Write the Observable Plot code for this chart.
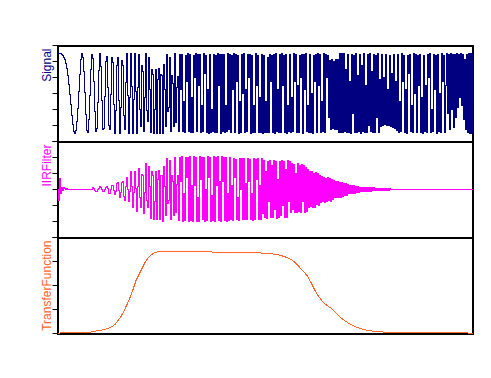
<!DOCTYPE html>
<html><head><meta charset="utf-8">
<script src="https://cdn.jsdelivr.net/npm/d3@7"></script>
<script src="https://cdn.jsdelivr.net/npm/@observablehq/plot@0.6"></script>
<style>
html,body{margin:0;padding:0;background:#fff;}
#chart{position:relative;width:491px;height:378px;background:#fff;overflow:hidden;}
#chart svg{position:absolute;left:0;}
</style></head><body><div id="chart"></div>
<script>
// Signal (chirp), one reading per sample column of the plot
const signal = [
1,1,1,0.99,0.98,0.96,0.91,0.85,0.75,0.62,0.44,0.23,-0.02,-0.28,-0.54,-0.78,-0.94,-1,
-0.93,-0.71,-0.37,0.05,0.48,0.84,1,
0.91,0.56,0.03,-0.53,-0.92,-0.98,-0.65,-0.04,0.6,0.98,
0.87,0.3,-0.45,-0.95,-0.87,-0.23,0.58,1,0.67,-0.18,
-0.9,-0.87,-0.08,0.8,0.93,0.15,-0.79,-0.91,-0.03,0.89,
0.78,-0.28,-1,-0.43,0.7,0.89,-0.17,-1,-0.35,0.83,
0.71,-0.55,-0.91,0.27,0.99,-0.04,-1,-0.11,0.99,0.17,
-0.99,-0.16,0.99,0.05,-1,0.14,0.97,-0.39,-0.83,0.69,
0.56,-0.94,-0.11,0.99,-0.43,-0.71,0.89,0.11,-0.97,0.61,
0.47,-1,-0.39,0.61,-0.99,0.34,0.62,-0.99,0.47,0.46,
-0.99,0.72,0.1,-0.83,0.97,-0.45,-0.34,0.91,-0.94,0.45,0.25,-0.83,1,-0.73,0.16,0.43,
-0.95,0.97,0.1,0.98,-0.96,-0.2,-0.97,0.95,0.3,0.99,-0.96,
0.98,-0.97,-0.1,-0.98,0.96,0.4,0.99,-0.96,0.97,0.2,
0.97,-0.98,-0.3,-0.96,0.99,0.5,0.95,-0.97,0.1,-0.99,
0.98,-0.97,-0.4,-0.95,0.97,
-0.97,0.96,-0.98,0.99,0.2,0.98,-0.99,0.97,-0.96,0.97,
-0.98,-0.3,-0.95,0.99,-0.9,0.97,-0.98,0.94,0.1,1,
-0.97,0.98,0.3,0.96,-0.99,-0.2,-0.97,0.97,0,0.99,
-0.98,0.1,-0.96,0.98,0.4,0.97,-0.99,0.95,-0.97,-0.3,
-0.98,0.99,0.2,0.96,-0.97,-0.1,-0.98,
0.97,-0.99,0.95,-0.98,-0.2,-0.97,0.9,-0.98,0.98,0.3,
0.96,-0.97,0.97,-0.99,0.99,-0.96,0.1,-0.97,0.98,-0.97,
0.99,0.2,0.96,-0.98,0.97,-0.99,-0.3,-0.96,
0.98,-0.97,-0.1,-0.96,0.99,0.3,0.97,-0.98,0.2,-0.97,
0.96,0.4,0.98,-0.99,0.97,0.1,0.99,-0.96,-0.3,-0.98,
0.97,-0.97,0,-0.99,0.96,0.3,0.98,-0.97,0.99,0.2,
0.97,-0.98,-0.2,-0.96,0.99,-0.97,0.98,0.4,0.95,-0.6,
0.82,-0.9,0.84,-0.88,0.8,-0.9,0.85,-0.91,0.84,
-0.98,1,-0.97,0.99,-0.98,1,-0.96,
0.6,-0.98,0.97,-0.97,0.3,-0.99,0.98,-0.5,0.96,-0.98,
0.99,-0.97,0.45,-0.96,0.98,-0.99,0.7,-0.95,0.99,-0.97,
0.2,-0.98,0.97,-0.8,0.99,-0.96,0.55,-0.98,0.98,-0.97,
0.96,-0.6,0.99,-0.98,0.35,
-0.82,0.98,-0.8,0.4,-0.78,0.97,-0.8,0.1,-0.79,0.95,
-0.82,0.5,-0.85,0.98,-0.88,0.3,-0.93,
0.97,-0.98,-0.2,-0.96,0.99,0.3,0.95,-0.97,0.1,-0.99,
0.96,0.5,0.98,-0.95,-0.3,-0.97,0.99,0,0.97,-0.98,
0.96,0.2,0.98,-0.97,-0.1,-0.99,0.95,-0.96,0.2,-0.98,
0.97,0.4,0.99,-0.97,-0.4,-0.96,0.98,0.1,0.96,-0.99,
0.97,-0.95,0,-0.98,0.99,0.3,0.96,-0.97,0.2,0.99,
-0.5,0.98,-0.9,0.99,-0.4,0.97,-0.85,
0.98,-0.6,0.99,-0.35,0.97,-0.1,0.99,-0.3,0.98,-0.65,
0.85,-0.9,0.97,-0.98,1,-1,1,-1,1
];

// IIR filter output, same sample columns
const iirFilter = [
0,-0.27,0.27,-0.1,0.04,-0.02,0.05,0.02,-0.01,0.02,0.01,0,
0,0,0,0,0,0,0,0,0,0,0,0,0,0,0,0,0,0,0,0,0,0,0,
0.04,0.02,-0.02,-0.05,-0.04,-0.01,0.03,
0.07,0.05,-0.01,-0.06,-0.06,-0.01,0.06,0.07,
0.02,-0.09,-0.11,0,0.11,0.09,-0.03,-0.12,-0.05,
0.14,0.18,-0.03,-0.2,-0.07,0.17,
0.21,-0.17,-0.27,0.08,0.3,-0.01,-0.3,
-0.05,0.45,0.08,-0.45,-0.07,0.45,0.02,
-0.55,0.08,0.53,-0.21,-0.46,0.38,
0.36,-0.61,-0.07,0.64,-0.28,-0.46,0.58,
0.08,-0.73,0.46,0.35,-0.75,-0.29,0.46,-0.74,0.26,0.47,-0.74,0.35,0.35,
-0.79,0.58,0.08,-0.66,0.77,-0.36,-0.27,0.73,-0.75,0.36,0.2,-0.66,0.8,-0.58,0.12,0.34,
-0.78,0.8,0.2,0.82,-0.79,-0.1,-0.77,0.81,0.3,0.8,
-0.8,0.83,-0.78,0.1,-0.79,0.82,0.1,0.8,-0.79,-0.2,
-0.79,0.83,0.25,0.8,-0.76,0.81,-0.79,0,-0.78,0.82,
0.3,0.79,-0.8,-0.15,-0.77,0.83,-0.79,0.8,0.1,0.82,
-0.78,0.2,-0.79,0.82,0.2,0.79,-0.78,0.81,-0.79,-0.1,-0.77,0.8,
-0.76,0.1,-0.77,0.78,0.3,0.76,-0.75,-0.2,-0.77,0.78,
0,0.78,-0.76,0.77,-0.75,0.15,-0.76,0.78,0.2,0.76,
-0.75,-0.1,-0.77,0.77,-0.76,0.75,0.25,0.78,-0.74,0.1,-0.76,0.77,-0.6,
0.72,-0.7,0.45,-0.72,0.7,-0.3,0.73,-0.71,0.6,-0.69,
0.72,-0.5,0.7,-0.72,0.25,-0.7,0.71,-0.65,0.73,-0.4,
0.7,-0.71,0.5,-0.7,0.72,-0.3,0.7,
-0.58,0.64,-0.5,0.62,-0.57,0.4,-0.58,0.65,-0.55,0.6,
-0.57,0.63,-0.3,0.6,-0.58,0.55,-0.56,
0.5,-0.45,0.46,-0.42,0.44,-0.45,0.4,-0.44,0.42,-0.38,0.4,-0.4,0.36,
-0.33,0.32,-0.3,0.3,-0.32,0.28,-0.3,0.3,-0.28,0.27,-0.29,0.26,-0.25,
0.22,-0.2,0.21,-0.19,0.2,-0.2,0.18,-0.19,0.18,-0.17,0.16,-0.16,0.14,-0.14,
0.12,-0.11,0.11,-0.1,0.1,-0.1,0.09,-0.09,0.08,-0.08,0.07,-0.07,0.06,
-0.06,0.05,-0.05,0.05,-0.05,0.04,-0.05,0.04,-0.04,0.04,-0.04,0.04,-0.03,0.04,-0.03,0.03,-0.03,0.03,-0.03,0.03,
-0.03,0.03,-0.02,0.03,-0.02,0.02,-0.02,0.02,-0.02,0.02,-0.01,0.01,0,
0,0,0,0,0,0,0,0,0,0,
0,0,0,0,0,0,0,0,0,0,
0,0,0,0,0,0,0,0,0,0,
0,0,0,0,0,0,0,0,0,0,
0,0,0,0,0,0,0,0,0,0,
0,0,0,0,0,0,0,0,0,0,
0,0,0,0,0,0,0,0,0,0,
0,0,0,0,0,0,0,0,0,0
];

// Transfer function, read at these sample columns
const transferTime = [0,32,34,42,48,53,57,60,63,66,69,72,75,78,81,84,87,90,93,97,102,107,117,132,152,182,204,214,220,226,232,236,240,244,249,253,257,261,265,269,274,278,282,287,292,297,302,307,312,319,327,342,415];
const transferValue = [0.006,0.009,0.025,0.038,0.056,0.079,0.113,0.163,0.213,0.281,0.363,0.45,0.55,0.663,0.738,0.813,0.888,0.944,0.981,1.015,1.025,1.029,1.025,1.023,1.019,1.013,1.006,0.996,0.985,0.963,0.934,0.9,0.85,0.794,0.725,0.638,0.538,0.456,0.391,0.35,0.309,0.256,0.204,0.156,0.119,0.088,0.063,0.046,0.034,0.025,0.016,0.009,0.006];

const signalTicks = [-1.2,-0.8,-0.4,0,0.4,0.8,1.2];
const transferTicks = [0,0.3,0.6,0.9,1.2];
const panelNames = ["Signal","IIRFilter","TransferFunction"];
const panelColors = ["#000080","#ff00ff","#ff6428"];

const transferRows = transferTime.map((t, i) => ({t, v: transferValue[i]}));

function panel(idx, dataMark, yDomain, yTicks) {
  const mt = 6, mb = 6, plotTop = 45 + 96 * idx;
  const svg = Plot.plot({
    width: 491, height: 96 + mt + mb,
    marginTop: mt, marginBottom: mb, marginLeft: 57.5, marginRight: 18.5,
    style: {background: "transparent", overflow: "visible"},
    x: {axis: null, domain: [0, 415]},
    y: {domain: yDomain, ticks: yTicks, tickSize: 5, tickFormat: () => "", label: null},
    marks: [
      Plot.frame({stroke: "black", strokeWidth: 2, shapeRendering: "crispEdges"}),
      dataMark,
      Plot.text([panelNames[idx]], {
        frameAnchor: "top-left", text: d => d, rotate: -90,
        textAnchor: "end", lineAnchor: "bottom", dx: -7, dy: 3,
        fill: panelColors[idx], fontSize: 12,
        fontFamily: "'Liberation Sans', Arial, sans-serif"
      })
    ]
  });
  svg.style.top = (plotTop - mt) + "px";
  document.getElementById("chart").appendChild(svg);
}

panel(0, Plot.lineY(signal, {curve: "step", stroke: panelColors[0], strokeWidth: 1, shapeRendering: "crispEdges"}), [-1.2, 1.2], signalTicks);
panel(1, Plot.lineY(iirFilter, {curve: "step", stroke: panelColors[1], strokeWidth: 1, shapeRendering: "crispEdges"}), [-1.2, 1.2], signalTicks);
panel(2, Plot.line(transferRows, {x: "t", y: "v", stroke: panelColors[2], strokeWidth: 1, shapeRendering: "crispEdges"}), [0, 1.2], transferTicks);
</script></body></html>
